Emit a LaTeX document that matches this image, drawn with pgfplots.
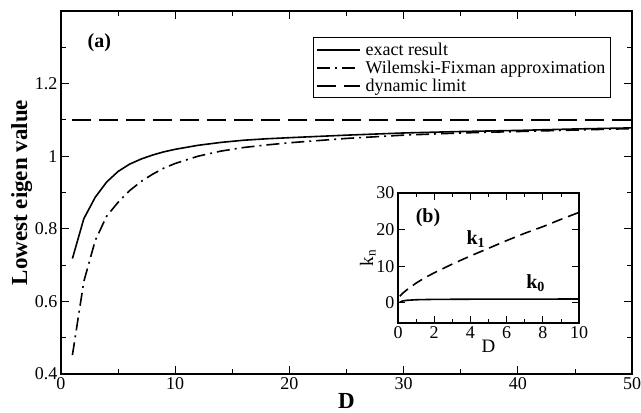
\documentclass[border=0pt]{standalone}
\usepackage{fontspec}
\setmainfont{Liberation Serif}
\usepackage{pgfplots}
\pgfplotsset{compat=1.18}

\pgfplotstableread{
D     v
1     0.718
2     0.828
3     0.887
4     0.929
5     0.958
6     0.978
7     0.992
8     1.003
9     1.012
10    1.019
12    1.030
14    1.038
16    1.044
18    1.048
20    1.051
25    1.058
30    1.064
35    1.068
40    1.071
45    1.075
50    1.078
}\exacttab

\pgfplotstableread{
D     v
1     0.452
2     0.655
3     0.768
4     0.835
5     0.873
6     0.905
7     0.930
8     0.950
9     0.967
10    0.980
12    1.000
14    1.014
16    1.024
18    1.031
20    1.037
25    1.049
30    1.058
35    1.064
40    1.068
45    1.072
50    1.076
}\wftab

\pgfplotstableread{
D     k
0.1   1.8
0.25  2.6
0.5   3.6
1     5.4
1.5   6.9
2     8.2
3     10.6
4     12.8
5     14.9
6     17.0
7     19.0
8     20.8
9     22.8
10    24.7
}\kone

\pgfplotstableread{
D     k
0.1   0.2
0.25  0.5
0.5   0.7
1     0.85
2     0.95
4     1.0
10    1.05
}\kzero

\begin{document}
\begin{tikzpicture}
  \pgfplotsset{
    every axis/.append style={
      scale only axis,
      axis line style={line width=1.6pt},
      tick style={black, line width=0.8pt},
      tick align=inside,
      /pgf/number format/assume math mode=true,
      tick label style={font=\fontsize{18}{19}\selectfont},
    },
  }
  \begin{axis}[
    at={(0pt,0pt)}, anchor=south west,
    width=571pt, height=363pt,
    xmin=0, xmax=50, ymin=0.4, ymax=1.4,
    xtick={0,10,20,30,40,50},
    minor xtick={5,15,25,35,45},
    ytick={0.4,0.6,0.8,1,1.2},
    minor ytick={0.5,0.7,0.9,1.1,1.3},
    yticklabels={0.4,0.6,0.8,1,1.2},
    major tick length=8pt, minor tick length=5pt,
    xlabel={\textbf{D}},
    ylabel={\textbf{Lowest eigen value}},
    label style={font=\fontsize{23}{24}\selectfont},
    xlabel style={yshift=3pt},
    ylabel style={yshift=-4pt},
    legend style={
      at={(0.963,0.928)}, anchor=north east,
      draw=black, line width=1.2pt,
      font=\fontsize{18}{19}\selectfont,
      row sep=0pt, inner sep=3pt,
      cells={anchor=west},
      /tikz/every odd column/.append style={column sep=3pt},
    },
    legend image code/.code={
      \draw[#1] plot coordinates {(0cm,0cm) (0.75cm,0cm) (1.5cm,0cm)};
    },
    clip=false,
  ]
    \addplot[black, line width=1.6pt] table[x=D, y=v] {\exacttab};
    \addlegendentry{exact result}
    \addplot[black, line width=1.6pt, dash pattern=on 13pt off 5pt on 2pt off 5pt] table[x=D, y=v] {\wftab};
    \addlegendentry{Wilemski-Fixman approximation}
    \addplot[black, line width=1.6pt, dash pattern=on 19pt off 8pt] coordinates {(1,1.1) (50,1.1)};
    \addlegendentry{dynamic limit}
    \node[font=\bfseries\fontsize{20}{21}\selectfont] at (rel axis cs:0.067,0.912) {(a)};
  \end{axis}

  \begin{axis}[
    at={(337pt,51pt)}, anchor=south west,
    width=181pt, height=130pt,
    xmin=0, xmax=10, ymin=-5.5, ymax=30,
    xtick={0,2,4,6,8,10},
    minor xtick={1,3,5,7,9},
    ytick={0,10,20,30},
    major tick length=7pt, minor tick length=4pt,
    axis background/.style={fill=white},
    xlabel={D},
    ylabel={k\textsubscript{n}},
    label style={font=\fontsize{19}{20}\selectfont},
    xlabel style={yshift=5pt},
    ylabel style={yshift=-6pt},
    clip=false,
  ]
    \addplot[black, line width=1.6pt, dash pattern=on 11pt off 6pt] table[x=D, y=k] {\kone};
    \addplot[black, line width=1.6pt] table[x=D, y=k] {\kzero};
    \node[font=\bfseries\fontsize{20}{21}\selectfont] at (axis cs:1.66,23.2) {(b)};
    \node[font=\bfseries\fontsize{20}{21}\selectfont] at (axis cs:4.3,17.5) {k\textsubscript{1}};
    \node[font=\bfseries\fontsize{20}{21}\selectfont] at (axis cs:7.6,5.3) {k\textsubscript{0}};
  \end{axis}
  \pgfresetboundingbox
  \useasboundingbox (-61pt,-39pt) rectangle (580pt,374pt);
\end{tikzpicture}
\end{document}
